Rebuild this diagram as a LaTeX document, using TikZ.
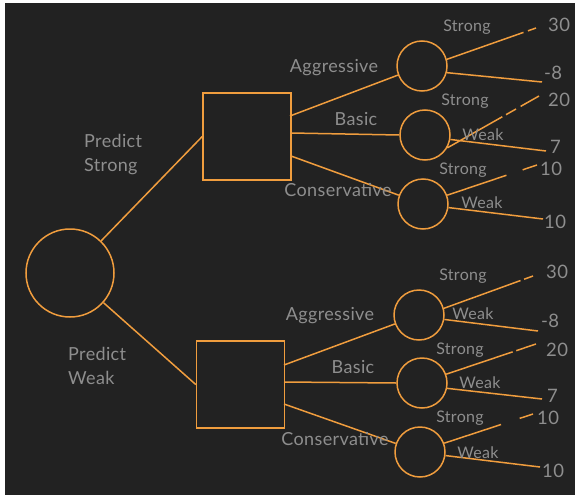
\documentclass[tikz,border=0pt]{standalone}
\usepackage{fontspec}
\setmainfont{Lato}[LetterSpace=2]
\usetikzlibrary{calc}
\definecolor{bg}{HTML}{222222}
\definecolor{edge}{HTML}{F09D3E}
\definecolor{lbl}{HTML}{8E8E8E}
\begin{document}
\begin{tikzpicture}[x=1pt,y=-1pt,
  wire/.style={draw=edge,line width=1.5pt},
  chance/.style={circle,draw=edge,line width=1.5pt,inner sep=0pt},
  decision/.style={rectangle,draw=edge,line width=1.5pt,inner sep=0pt,minimum width=88pt,minimum height=87pt},
  txt/.style={text=lbl,font=\fontsize{18}{24}\selectfont,inner sep=0pt},
  small/.style={text=lbl,font=\fontsize{16}{17}\selectfont,inner sep=0pt},
  num/.style={text=lbl,font=\fontsize{18.5}{19}\selectfont,inner sep=0pt}]
\useasboundingbox (0,0) rectangle (575,495);
\fill[white] (0,0) rectangle (575,495);
\fill[bg] (5,3) rectangle (575,495);

% root chance node and the two decision squares
\node[chance,minimum size=88pt] (root) at (70,273) {};
\node[decision] (dS) at (247,136.5) {};
\node[decision] (dW) at (240.5,384.5) {};
\draw[wire] (root) -- (dS.west);
\draw[wire] (root) -- (dW.west);
\node[txt,align=left,anchor=west] at (84,155) {Predict\\Strong};
\node[txt,align=left,anchor=west] at (68,366) {Predict\\Weak};

% outcome chance nodes
\foreach \n/\x/\y in {a1/422/66, b1/425/135, c1/423/204, a2/419/315, b2/422/383, c2/420/452}
  \node[chance,minimum size=50pt] (\n) at (\x,\y) {};

% strategy branches
\coordinate (sA1) at (290,116); \coordinate (sB1) at (291,133); \coordinate (sC1) at (291,156);
\coordinate (sA2) at (284,365); \coordinate (sB2) at (284,382); \coordinate (sC2) at (284,404);
\draw[wire] (sA1) -- (a1);
\draw[wire] (sB1) -- (b1.west);
\draw[wire] (sC1) -- (c1);
\draw[wire] (sA2) -- (a2);
\draw[wire] (sB2) -- (b2.west);
\draw[wire] (sC2) -- (c2);
\node[txt] at (334,68) {Aggressive};
\node[txt] at (356,119) {Basic};
\node[txt] at (338,190) {Conservative};
\node[txt] at (330,316) {Aggressive};
\node[txt] at (353,367) {Basic};
\node[txt] at (335,439) {Conservative};

% payoff ends
\coordinate (eA1s) at (536,28);  \coordinate (eA1w) at (542,82);
\coordinate (eB1s) at (539,96);  \coordinate (eB1w) at (546,151);
\coordinate (eC1s) at (537,165); \coordinate (eC1w) at (543,219);
\coordinate (eA2s) at (533,276); \coordinate (eA2w) at (538,331);
\coordinate (eB2s) at (536,344); \coordinate (eB2w) at (542,399);
\coordinate (eC2s) at (533,414); \coordinate (eC2w) at (540,467);

% outcome branches (with the small breaks in the strokes)
\draw[wire] (a1.15) -- ($(a1.15)!0.86!(eA1s)$) ($(a1.15)!0.91!(eA1s)$) -- (eA1s);
\draw[wire] (a1.-15) -- (eA1w);
\draw[wire] (b1.-30) -- ($(b1.-30)!0.6!(eB1s)$) ($(b1.-30)!0.64!(eB1s)$) -- ($(b1.-30)!0.75!(eB1s)$) ($(b1.-30)!0.8!(eB1s)$) -- (eB1s);
\draw[wire] (b1.-10) -- (eB1w);
\draw[wire] (c1.20) -- ($(c1.20)!0.66!(eC1s)$) ($(c1.20)!0.84!(eC1s)$) -- (eC1s);
\draw[wire] (c1.-8) -- (eC1w);
\draw[wire] (a2.15) -- ($(a2.15)!0.86!(eA2s)$) ($(a2.15)!0.9!(eA2s)$) -- (eA2s);
\draw[wire] (a2.-10) -- (eA2w);
\draw[wire] (b2.20) -- ($(b2.20)!0.74!(eB2s)$) ($(b2.20)!0.78!(eB2s)$) -- (eB2s);
\draw[wire] (b2.-12) -- (eB2w);
\draw[wire] (c2.20) -- ($(c2.20)!0.64!(eC2s)$) ($(c2.20)!0.85!(eC2s)$) -- (eC2s);
\draw[wire] (c2.-8) -- (eC2w);

% outcome labels
\node[small] at (467,27) {Strong};
\node[small] at (465,101) {Strong};
\node[small] at (483,135) {Weak};
\node[small] at (463,170) {Strong};
\node[small] at (482,203) {Weak};
\node[small] at (463,276) {Strong};
\node[small] at (473,314) {Weak};
\node[small] at (460,350) {Strong};
\node[small] at (480,383) {Weak};
\node[small] at (460,418) {Strong};
\node[small] at (478,453) {Weak};

% payoffs
\node[num,anchor=west] at (548,25) {30};
\node[num,anchor=west] at (544,73) {-8};
\node[num,anchor=west] at (548,100) {20};
\node[num,anchor=west] at (550,147) {7};
\node[num,anchor=west] at (540,169) {10};
\node[num,anchor=west] at (544,222) {10};
\node[num,anchor=west] at (546,272) {30};
\node[num,anchor=west] at (541,321) {-8};
\node[num,anchor=west] at (546,350) {20};
\node[num,anchor=west] at (547,396) {7};
\node[num,anchor=west] at (537,418) {10};
\node[num,anchor=west] at (542,471) {10};
\end{tikzpicture}
\end{document}
